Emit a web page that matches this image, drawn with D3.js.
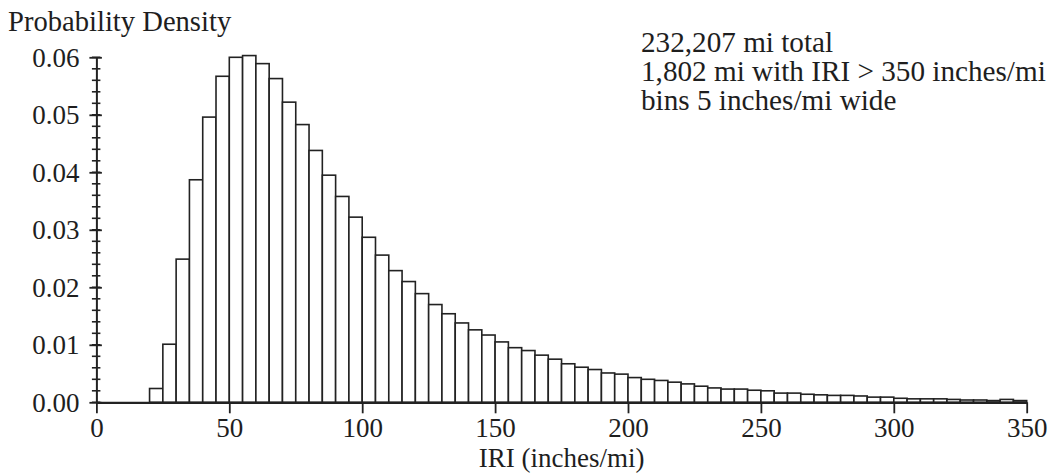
<!DOCTYPE html>
<html>
<head>
<meta charset="utf-8">
<script src="https://cdn.jsdelivr.net/npm/d3@7"></script>
<style>
  html, body { margin: 0; padding: 0; background: #fff; }
  svg { display: block; }
  text { font-family: "Liberation Serif", "Times New Roman", serif; fill: #1e1e1e; }
</style>
</head>
<body>
<svg id="chart" width="1052" height="473"></svg>
<script>
// ---- data ----
const binStarts = [20,25,30,35,40,45,50,55,60,65,70,75,80,85,90,95,100,105,110,115,120,125,130,135,140,145,150,155,160,165,170,175,180,185,190,195,200,205,210,215,220,225,230,235,240,245,250,255,260,265,270,275,280,285,290,295,300,305,310,315,320,325,330,335,340,345];
const density = [0.0024,0.0101,0.0249,0.0387,0.0496,0.0567,0.0600,0.0603,0.0589,0.0563,0.0522,0.0483,0.0438,0.0395,0.0358,0.0322,0.0287,0.0256,0.0229,0.0210,0.0189,0.0170,0.0154,0.0138,0.0126,0.0117,0.0105,0.0095,0.0090,0.0082,0.0075,0.0067,0.0061,0.0057,0.0051,0.0049,0.0043,0.0040,0.0038,0.0035,0.0032,0.0028,0.0025,0.0023,0.0023,0.0021,0.0020,0.0016,0.0016,0.0014,0.0013,0.0012,0.0012,0.0011,0.0009,0.0009,0.0007,0.0006,0.0006,0.0006,0.0005,0.0004,0.0004,0.0003,0.0005,0.0003];
const binWidth = 5;
const xTicks = [0,50,100,150,200,250,300,350];
const yTicks = [0,0.01,0.02,0.03,0.04,0.05,0.06];
const yMinorTicks = d3.range(0, 0.0601, 0.002);
const yAxisTitle = "Probability Density";
const xAxisTitle = "IRI (inches/mi)";
const notes = ["232,207 mi total", "1,802 mi with IRI > 350 inches/mi", "bins 5 inches/mi wide"];

// ---- layout ----
const svg = d3.select("#chart");
const x = d3.scaleLinear().domain([0, 350]).range([96.4, 1026.7]);
const y = d3.scaleLinear().domain([0, 0.06]).range([402.3, 57.3]);
const ink = "#222";

// bars
svg.append("g").selectAll("rect")
  .data(binStarts.map((s, i) => ({s, v: density[i]})))
  .join("rect")
  .attr("x", d => x(d.s))
  .attr("width", d => x(d.s + binWidth) - x(d.s))
  .attr("y", d => y(d.v))
  .attr("height", d => y(0) - y(d.v))
  .attr("fill", "#fff")
  .attr("stroke", ink)
  .attr("stroke-width", 1.6);

// x axis
const xAxis = svg.append("g")
  .attr("transform", `translate(0,${y(0)})`)
  .call(d3.axisBottom(x).tickValues(xTicks).tickSize(11).tickSizeOuter(0).tickFormat(d3.format("d")));
xAxis.select(".domain").attr("stroke", ink).attr("stroke-width", 2.2);
xAxis.selectAll(".tick line").attr("stroke", ink).attr("stroke-width", 1.8);
xAxis.selectAll(".tick text")
  .attr("y", 34.7).attr("dy", 0)
  .attr("font-size", 27).attr("fill", "#1e1e1e");

// y axis minor ticks
svg.append("g").selectAll("line")
  .data(yMinorTicks)
  .join("line")
  .attr("x1", x(0) - 4.5).attr("x2", x(0) + 4)
  .attr("y1", d => y(d)).attr("y2", d => y(d))
  .attr("stroke", ink).attr("stroke-width", 1.6);

// y axis
const yAxis = svg.append("g")
  .attr("transform", `translate(${x(0)},0)`)
  .call(d3.axisLeft(y).tickValues(yTicks).tickSize(7).tickSizeOuter(0).tickFormat(d3.format(".2f")));
yAxis.select(".domain").attr("stroke", ink).attr("stroke-width", 2);
yAxis.selectAll(".tick line").attr("x1", 5.5).attr("stroke", ink).attr("stroke-width", 1.8);
yAxis.selectAll(".tick text")
  .attr("x", -17).attr("dy", "0.34em")
  .attr("font-size", 27).attr("fill", "#1e1e1e");

// titles
svg.append("text").attr("x", 8).attr("y", 31)
  .attr("font-size", 28.6).text(yAxisTitle);
svg.append("text").attr("x", (x(0) + x(350)) / 2).attr("y", 467.3)
  .attr("text-anchor", "middle").attr("font-size", 27).text(xAxisTitle);

// annotation
svg.append("g").selectAll("text")
  .data(notes)
  .join("text")
  .attr("x", 641)
  .attr("y", (d, i) => 52 + i * 29)
  .attr("font-size", 29.2)
  .text(d => d);
</script>
</body>
</html>
